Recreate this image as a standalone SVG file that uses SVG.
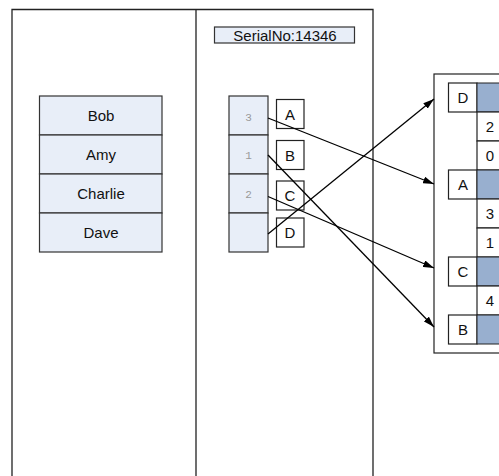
<svg xmlns="http://www.w3.org/2000/svg" width="499" height="476" viewBox="0 0 499 476">
<style>
text{font-family:"Liberation Sans",Arial,sans-serif;fill:#111;text-anchor:middle;dominant-baseline:central}
.frame{fill:none;stroke:#222;stroke-width:1.3}
.cell{fill:#e8eef8;stroke:#333;stroke-width:1.2}
.box{fill:#fff;stroke:#222;stroke-width:1.2}
.blue{fill:#98afcf;stroke:#222;stroke-width:1}
.num{font-family:"Liberation Mono",monospace;font-size:11px;fill:#999}
.t15{font-size:15px}
.conn{stroke:#000;stroke-width:1.3;fill:none;marker-end:url(#ah)}
</style>
<defs>
<marker id="ah" viewBox="0 0 11 7" refX="11" refY="3.5" markerWidth="11" markerHeight="7" markerUnits="userSpaceOnUse" orient="auto">
<path d="M0,0 L11,3.5 L0,7 z" fill="#000"/>
</marker>
</defs>
<rect width="499" height="476" fill="#fff"/>
<g id="frame">
<path class="frame" d="M12,477 V9.5 H373 V477 M196,9.5 V477"/>
</g>
<g id="serial">
<rect class="cell" x="214.5" y="27" width="140" height="16"/>
<text class="t15" x="285" y="35">SerialNo:14346</text>
</g>
<g id="names">
<rect class="cell" x="39.5" y="96" width="122.5" height="39"/>
<text class="t15" x="101" y="115.5">Bob</text>
<rect class="cell" x="39.5" y="135" width="122.5" height="39"/>
<text class="t15" x="101" y="154.5">Amy</text>
<rect class="cell" x="39.5" y="174" width="122.5" height="39"/>
<text class="t15" x="101" y="193.5">Charlie</text>
<rect class="cell" x="39.5" y="213" width="122.5" height="39"/>
<text class="t15" x="101" y="232.5">Dave</text>
</g>
<g id="index">
<rect class="cell" x="229" y="96" width="39" height="39"/>
<text class="num" x="248.5" y="117.5">3</text>
<rect class="cell" x="229" y="135" width="39" height="39"/>
<text class="num" x="248.5" y="156">1</text>
<rect class="cell" x="229" y="174" width="39" height="39"/>
<text class="num" x="248.5" y="195">2</text>
<rect class="cell" x="229" y="213" width="39" height="39"/>
</g>
<g id="letters">
<rect class="box" x="276.5" y="99.5" width="27.5" height="29"/>
<text class="t15" x="290" y="114">A</text>
<rect class="box" x="276.5" y="140.5" width="27.5" height="29"/>
<text class="t15" x="290" y="155">B</text>
<rect class="box" x="276.5" y="181" width="27.5" height="29"/>
<text class="t15" x="290" y="195.5">C</text>
<rect class="box" x="276.5" y="218" width="27.5" height="29"/>
<text class="t15" x="290" y="232.5">D</text>
</g>
<g id="table">
<rect class="box" x="434" y="74" width="80" height="279"/>
<rect class="box" x="448.5" y="83" width="28.5" height="29"/>
<rect class="blue" x="477" y="83" width="30" height="29"/>
<text class="t15" x="463" y="97.5">D</text>
<rect class="box" x="477" y="112" width="30" height="29"/>
<text class="t15" x="490" y="126.5">2</text>
<rect class="box" x="477" y="141" width="30" height="29"/>
<text class="t15" x="490" y="155.5">0</text>
<rect class="box" x="448.5" y="170" width="28.5" height="29"/>
<rect class="blue" x="477" y="170" width="30" height="29"/>
<text class="t15" x="463" y="184.5">A</text>
<rect class="box" x="477" y="199" width="30" height="29"/>
<text class="t15" x="490" y="213.5">3</text>
<rect class="box" x="477" y="228" width="30" height="29"/>
<text class="t15" x="490" y="242.5">1</text>
<rect class="box" x="448.5" y="257" width="28.5" height="29"/>
<rect class="blue" x="477" y="257" width="30" height="29"/>
<text class="t15" x="463" y="271.5">C</text>
<rect class="box" x="477" y="286" width="30" height="29"/>
<text class="t15" x="490" y="300.5">4</text>
<rect class="box" x="448.5" y="315" width="28.5" height="29"/>
<rect class="blue" x="477" y="315" width="30" height="29"/>
<text class="t15" x="463" y="329.5">B</text>
</g>
<g id="connectors">
<line class="conn" x1="268" y1="118" x2="434" y2="184"/>
<line class="conn" x1="268" y1="155" x2="434" y2="327"/>
<line class="conn" x1="268" y1="196.5" x2="434" y2="268"/>
<line class="conn" x1="268" y1="234" x2="434" y2="99"/>
</g>
</svg>
